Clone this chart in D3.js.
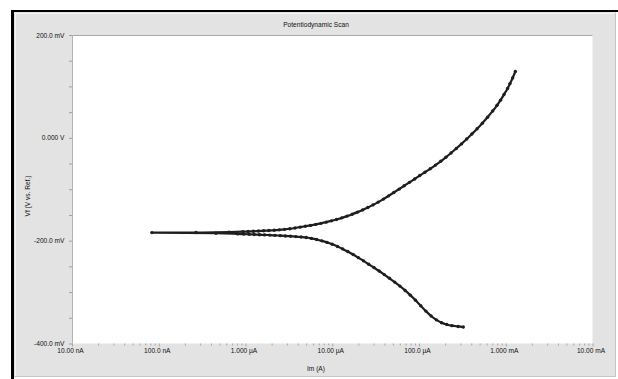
<!DOCTYPE html>
<html>
<head>
<meta charset="utf-8">
<script src="https://cdn.jsdelivr.net/npm/d3@7/dist/d3.min.js"></script>
<style>
  html, body { margin: 0; padding: 0; background: #fff; }
  svg { display: block; }
  text { font-family: "Liberation Sans", Arial, sans-serif; fill: #111; }
</style>
</head>
<body>
<svg id="chart" width="618" height="379"></svg>
<script>
// Cathodic branch, in scan order: current (A), potential (mV)
const cathodicCurrent = [3.24e-4, 2.82e-4, 2.40e-4, 2.09e-4, 1.82e-4, 1.585e-4, 1.38e-4, 1.20e-4, 1.047e-4, 9.12e-5,
  7.94e-5, 6.92e-5, 6.03e-5, 5.25e-5, 4.57e-5, 3.98e-5, 3.47e-5, 3.02e-5, 2.63e-5, 2.29e-5,
  2.00e-5, 1.74e-5, 1.51e-5, 1.32e-5, 1.15e-5, 1.00e-5, 8.71e-6, 7.59e-6, 6.61e-6, 5.75e-6,
  5.01e-6, 4.37e-6, 3.80e-6, 3.31e-6, 2.88e-6, 2.51e-6, 2.19e-6, 1.91e-6, 1.66e-6, 1.45e-6,
  1.26e-6, 1.10e-6, 9.55e-7, 8.13e-7, 4.57e-7, 8.32e-8];
const cathodicPotential = [-368, -366.8, -365.3, -363, -359.5, -354, -346.5, -337, -326.5, -316,
  -306, -296.8, -288.4, -280.6, -273.2, -266, -259, -252.3, -245.8, -239.3,
  -233, -227, -221.2, -216, -211.2, -207, -203.4, -200.4, -197.8, -195.6,
  -193.8, -192.9, -192.1, -191.4, -190.8, -190.2, -189.7, -189.2, -188.8, -188.4,
  -188, -187.6, -187.2, -186.8, -185.5, -184.3];

// Anodic branch, continuing the scan past the corrosion potential
const anodicCurrent = [2.69e-7, 6.46e-7, 9.33e-7, 1.07e-6, 1.23e-6, 1.41e-6, 1.62e-6, 1.86e-6, 2.14e-6, 2.45e-6,
  2.82e-6, 3.24e-6, 3.72e-6, 4.27e-6, 4.90e-6, 5.62e-6, 6.46e-6, 7.41e-6, 8.51e-6, 9.77e-6,
  1.12e-5, 1.29e-5, 1.48e-5, 1.70e-5, 1.95e-5, 2.24e-5, 2.57e-5, 2.95e-5, 3.39e-5, 3.89e-5,
  4.47e-5, 5.13e-5, 5.89e-5, 6.76e-5, 7.76e-5, 8.91e-5, 1.02e-4, 1.17e-4, 1.35e-4, 1.55e-4,
  1.78e-4, 2.04e-4, 2.34e-4, 2.69e-4, 3.09e-4, 3.55e-4, 4.07e-4, 4.68e-4, 5.37e-4, 6.17e-4,
  7.08e-4, 7.94e-4, 8.71e-4, 9.55e-4, 1.05e-3, 1.12e-3, 1.20e-3, 1.29e-3];
const anodicPotential = [-184.2, -183.3, -182.6, -182.2, -181.8, -181.3, -180.8, -180.3, -179.7, -179,
  -178, -176.8, -175.3, -173.6, -172, -170.3, -168.4, -166.3, -164, -161.5,
  -158.7, -155.6, -152.2, -148.5, -144.5, -140.2, -135.5, -130.4, -125, -119.2,
  -112.8, -106.3, -99.8, -93.2, -86.6, -80, -73.4, -66.8, -60, -53,
  -45.6, -37.8, -29.5, -20.8, -11.8, -2.4, 7.4, 17.7, 28.5, 40,
  52.3, 63.3, 73.3, 84.4, 96, 105.5, 116.5, 129];

// Axis tick values and labels
const xTickValues = [1e-8, 1e-7, 1e-6, 1e-5, 1e-4, 1e-3, 1e-2];
const xTickLabels = ["10.00 nA", "100.0 nA", "1.000 \u00b5A", "10.00 \u00b5A", "100.0 \u00b5A", "1.000 mA", "10.00 mA"];
const yTickValues = [200, 0, -200, -400];
const yTickLabels = ["200.0 mV", "0.000 V", "-200.0 mV", "-400.0 mV"];
const yMinorValues = [150, 100, 50, -50, -100, -150, -250, -300, -350];

const titleText = "Potentiodynamic Scan";
const xTitle = "Im (A)";
const yTitle = "Vf (V vs. Ref.)";

const svg = d3.select("#chart");
const W = 618, H = 379;

// window frame and grey panel
svg.append("rect").attr("x", 0).attr("y", 0).attr("width", W).attr("height", H).attr("fill", "#fff");
svg.append("rect").attr("x", 14).attr("y", 12).attr("width", 602).attr("height", 365).attr("fill", "#e3e3e3");
svg.append("line").attr("x1", 14).attr("x2", 616).attr("y1", 13.5).attr("y2", 13.5).attr("stroke", "#f4f4f4");
svg.append("line").attr("x1", 15.5).attr("x2", 15.5).attr("y1", 13).attr("y2", 377).attr("stroke", "#f4f4f4");
svg.append("line").attr("x1", 615.5).attr("x2", 615.5).attr("y1", 13).attr("y2", 377).attr("stroke", "#c4c4c4");
svg.append("line").attr("x1", 14).attr("x2", 616).attr("y1", 376.5).attr("y2", 376.5).attr("stroke", "#c4c4c4");
svg.append("rect").attr("x", 11).attr("y", 10).attr("width", W - 11).attr("height", 2).attr("fill", "#000");
svg.append("rect").attr("x", 11).attr("y", 10).attr("width", 3).attr("height", H - 10).attr("fill", "#000");

// plot area
const plot = { left: 72, top: 35, right: 592.5, bottom: 343.5 };
const x = d3.scaleLog().domain([1e-8, 1e-2]).range([plot.left, plot.right]);
const y = d3.scaleLinear().domain([-400, 200]).range([plot.bottom, plot.top]);

svg.append("rect")
  .attr("x", plot.left).attr("y", plot.top)
  .attr("width", plot.right - plot.left).attr("height", plot.bottom - plot.top)
  .attr("fill", "#fff");
svg.append("line").attr("x1", plot.left).attr("x2", plot.right)
  .attr("y1", plot.top + 0.5).attr("y2", plot.top + 0.5).attr("stroke", "#a8a8a8");
svg.append("line").attr("x1", plot.left + 0.5).attr("x2", plot.left + 0.5)
  .attr("y1", plot.top).attr("y2", plot.bottom).attr("stroke", "#b4b4b4");

// title
svg.append("text").attr("x", 316).attr("y", 26.5).attr("text-anchor", "middle")
  .attr("font-size", 6.6).text(titleText);

// y axis: major + minor ticks
const yAxis = d3.axisLeft(y)
  .tickValues(yTickValues.concat(yMinorValues))
  .tickSize(3)
  .tickFormat(d => { const i = yTickValues.indexOf(d); return i >= 0 ? yTickLabels[i] : ""; });
const gy = svg.append("g").attr("transform", `translate(${plot.left},0)`).call(yAxis);
gy.select(".domain").remove();
gy.selectAll(".tick line").attr("stroke", "#a0a0a0");
gy.selectAll(".tick text").attr("x", -7.5).attr("font-size", 6.6)
  .attr("font-family", "Liberation Sans, Arial, sans-serif").attr("fill", "#111");

// x axis: decade labels and log minor ticks
const xMinor = [];
for (let dec = -8; dec < -2; dec++) for (let m = 2; m <= 9; m++) xMinor.push(m * Math.pow(10, dec));
const gxMinor = svg.append("g").attr("transform", `translate(0,${plot.bottom})`)
  .call(d3.axisBottom(x).tickValues(xMinor).tickSize(2).tickFormat(""));
gxMinor.select(".domain").remove();
gxMinor.selectAll(".tick line").attr("stroke", "#a8a8a8");

const xAxis = d3.axisBottom(x).tickValues(xTickValues).tickSize(3)
  .tickFormat((d, i) => xTickLabels[i]);
const gx = svg.append("g").attr("transform", `translate(0,${plot.bottom})`).call(xAxis);
gx.select(".domain").remove();
gx.selectAll(".tick line").attr("stroke", "#a8a8a8");
gx.selectAll(".tick text").attr("x", -2).attr("y", 5).attr("font-size", 6.6)
  .attr("font-family", "Liberation Sans, Arial, sans-serif").attr("fill", "#111");

// axis titles
svg.append("text").attr("x", 307).attr("y", 371).attr("font-size", 6.6).text(xTitle);
svg.append("text").attr("transform", "translate(29.5,196) rotate(-90)")
  .attr("text-anchor", "middle").attr("font-size", 6.6).text(yTitle);

// scan data: cathodic branch then anodic branch
const scan = cathodicCurrent.map((c, i) => [c, cathodicPotential[i]])
  .concat(anodicCurrent.map((c, i) => [c, anodicPotential[i]]));

const line = d3.line().x(d => x(d[0])).y(d => y(d[1])).curve(d3.curveCatmullRom.alpha(0.5));
svg.append("path").datum(scan).attr("d", line)
  .attr("fill", "none").attr("stroke", "#1e1e1e").attr("stroke-width", 2.2);
svg.append("g").selectAll("circle").data(scan).join("circle")
  .attr("cx", d => x(d[0])).attr("cy", d => y(d[1])).attr("r", 1.7).attr("fill", "#1e1e1e");
</script>
</body>
</html>
